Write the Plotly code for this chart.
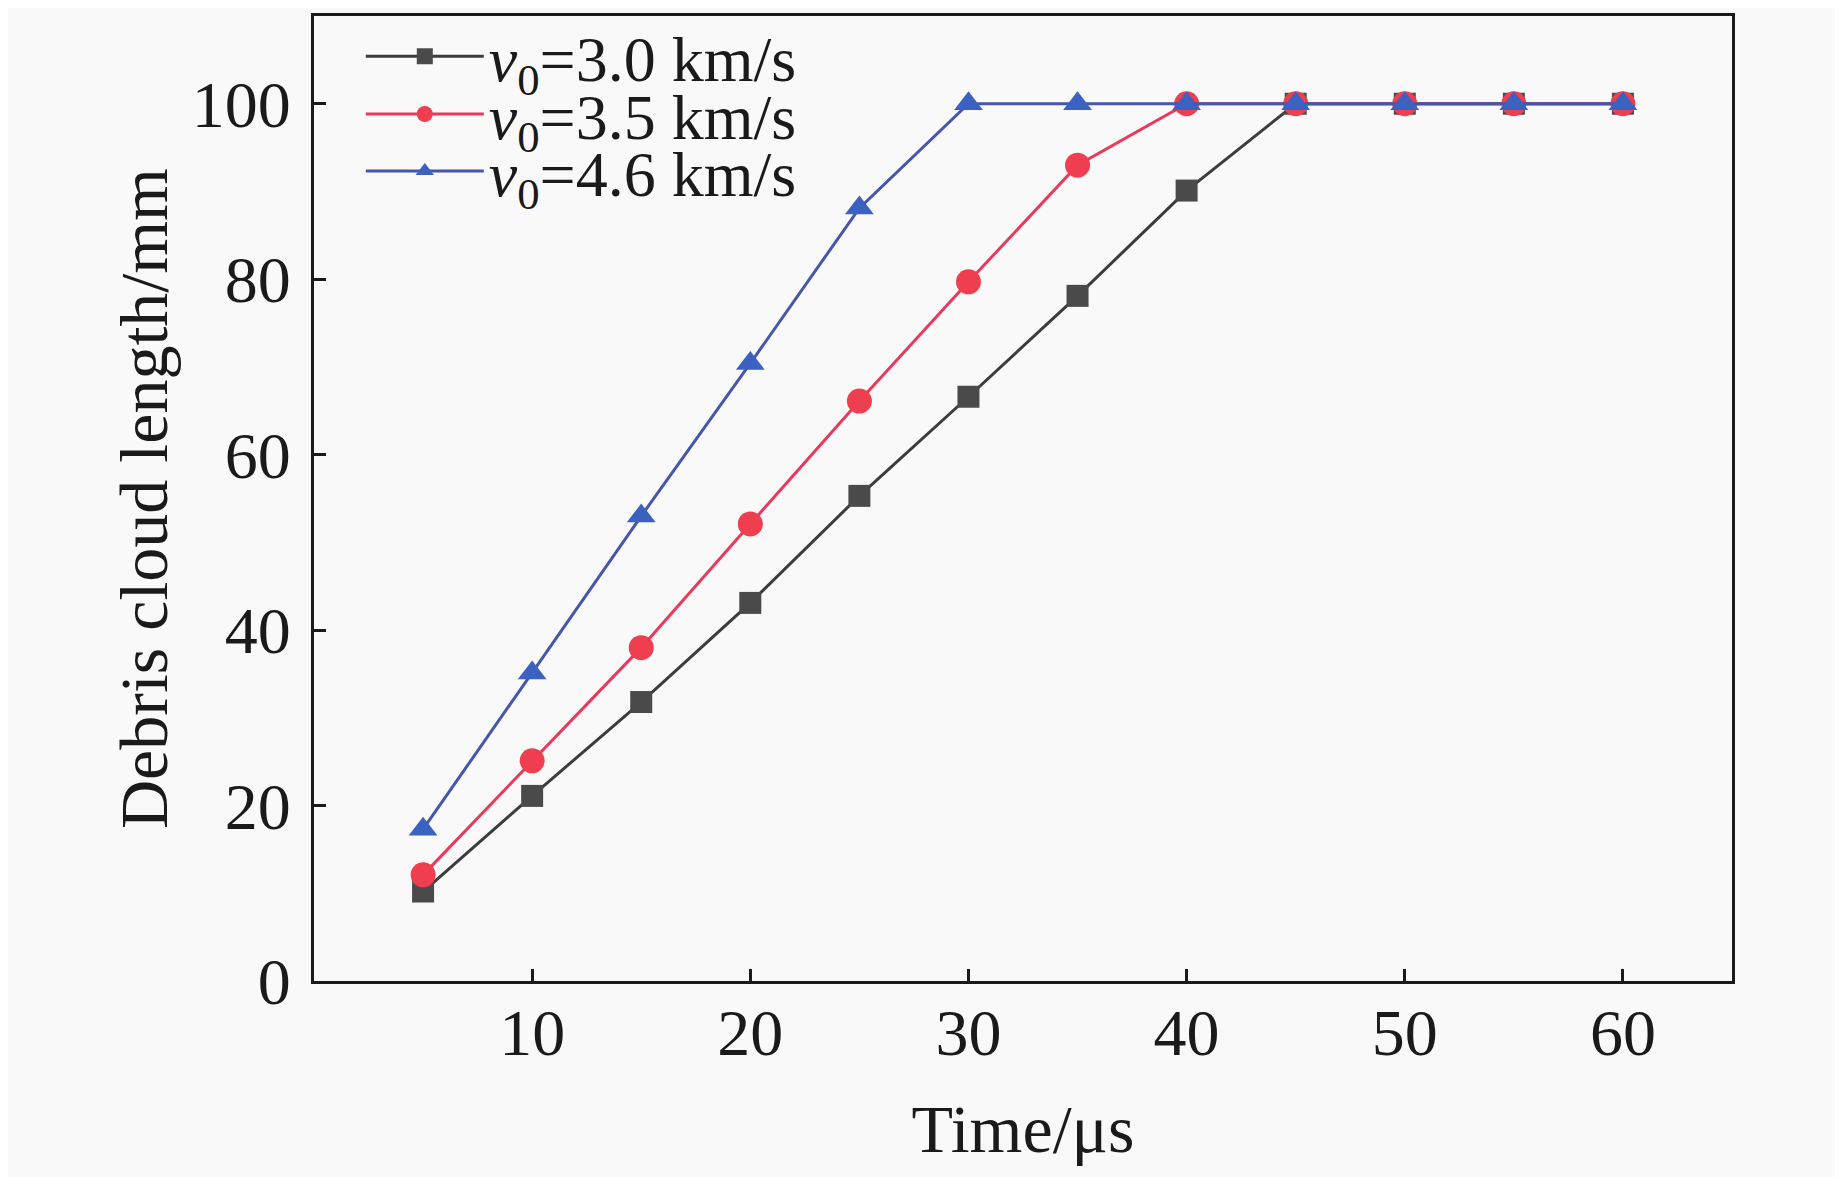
import plotly.graph_objects as go

# data
time_us = [5, 10, 15, 20, 25, 30, 35, 40, 45, 50, 55, 60]
len_v30 = [10.2, 21.1, 31.8, 43.1, 55.3, 66.6, 78.1, 90.1, 100, 100, 100, 100]
len_v35 = [12.1, 25.1, 38.0, 52.1, 66.1, 79.7, 93.0, 100, 100, 100, 100, 100]
len_v46 = [17.3, 35.1, 53.0, 70.4, 88.1, 100, 100, 100, 100, 100, 100, 100]

series_names = [
    "<i>v</i><sub>0</sub>=3.0 km/s",
    "<i>v</i><sub>0</sub>=3.5 km/s",
    "<i>v</i><sub>0</sub>=4.6 km/s",
]

font_family = "Liberation Serif, Times New Roman, serif"
ink = "#1a1a1a"
bg = "#f9f9f9"

styles = [
    dict(line="#3c3c3c", marker="#4a4a4a", symbol="square", size=22),
    dict(line="#e83a5c", marker="#ef3e4f", symbol="circle", size=25),
    dict(line="#4656a8", marker="#3b62c0", symbol="triangle-up", size=25),
]
legend_ids = ["legend", "legend2", "legend3"]
legend_rows = [0.958, 0.898, 0.839]  # one legend box per row, to get tight row spacing

fig = go.Figure()
for name, ys, st, lg in zip(series_names, [len_v30, len_v35, len_v46], styles, legend_ids):
    fig.add_trace(
        go.Scatter(
            x=time_us,
            y=ys,
            name=name,
            legend=lg,
            mode="lines+markers",
            line=dict(color=st["line"], width=3),
            marker=dict(color=st["marker"], symbol=st["symbol"], size=st["size"], line_width=0),
        )
    )

axis_common = dict(
    showgrid=False,
    zeroline=False,
    showline=True,
    linecolor=ink,
    linewidth=3,
    mirror=True,
    ticks="inside",
    ticklen=12,
    tickwidth=3,
    tickcolor=ink,
    tickfont=dict(family=font_family, size=66, color=ink),
)

fig.update_xaxes(
    range=[0, 65],
    tickvals=[10, 20, 30, 40, 50, 60],
    ticklabelstandoff=-8,
    title=dict(text="Time/μs", font=dict(family=font_family, size=68, color=ink), standoff=37),
    **axis_common,
)
fig.update_yaxes(
    range=[0, 110],
    tickvals=[0, 20, 40, 60, 80, 100],
    ticklabelstandoff=7,
    title=dict(text="Debris cloud length/mm", font=dict(family=font_family, size=68, color=ink), standoff=2),
    **axis_common,
)

legend_style = dict(
    x=0.033,
    xanchor="left",
    yanchor="middle",
    bgcolor="rgba(0,0,0,0)",
    font=dict(family=font_family, size=64, color=ink),
    itemwidth=118,
)

fig.update_layout(
    width=1835,
    height=1169,
    margin=dict(l=306, r=111, t=0, b=196),
    paper_bgcolor=bg,
    plot_bgcolor=bg,
    showlegend=True,
    legend=dict(y=legend_rows[0], **legend_style),
    legend2=dict(y=legend_rows[1], **legend_style),
    legend3=dict(y=legend_rows[2], **legend_style),
)

fig.write_html("out.html")
